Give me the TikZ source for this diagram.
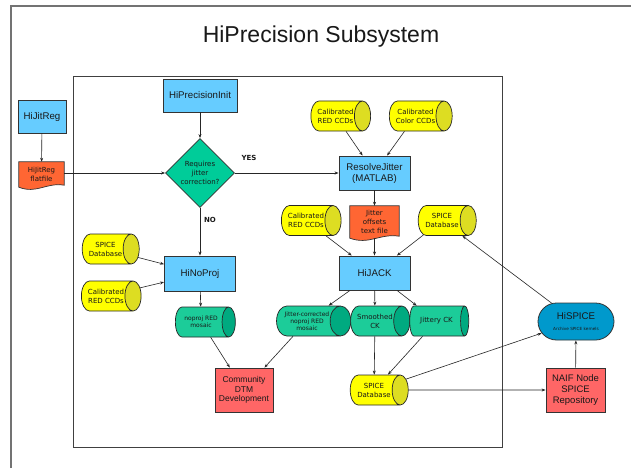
\documentclass[tikz,border=0pt]{standalone}
\usepackage{fontspec}
\setmainfont{Liberation Sans}
\newfontfamily\vfont{DejaVu Sans}
\usetikzlibrary{shapes.geometric,shapes.misc,arrows.meta,backgrounds}
\definecolor{boxblue}{HTML}{66CCFF}
\definecolor{diagreen}{HTML}{00CC99}
\definecolor{yel}{HTML}{FFFF00}
\definecolor{yelend}{HTML}{DDDD22}
\definecolor{grn}{HTML}{1CCC99}
\definecolor{grnend}{HTML}{00AA80}
\definecolor{orng}{HTML}{FF6633}
\definecolor{redbox}{HTML}{FF6666}
\definecolor{spiceblue}{HTML}{0099CC}
\newcommand\docwave[3]{%
  \begin{scope}[on background layer]
  \filldraw[fill=#3, draw=black!80, line width=0.7pt]
    (#1.north west) -- (#1.north east) -- ([yshift=2pt]#1.south east)
    .. controls ([xshift=-#2pt, yshift=5pt]#1.south east) and ([xshift=#2pt, yshift=-7pt]#1.south west) .. (#1.south west) -- cycle;
  \end{scope}}
\begin{document}
\begin{tikzpicture}[x=1pt,y=-1pt,
  every node/.style={text=black!90},
  pbox/.style={rectangle, draw=black!80, line width=0.9pt, fill=boxblue, align=center, inner sep=1pt, font=\fontsize{9.7}{11}\selectfont},
  rbox/.style={rectangle, draw=black!80, line width=0.9pt, fill=redbox, align=center, inner sep=1pt},
  cyl/.style={cylinder, shape aspect=1.05, draw=black!85, line width=0.7pt, cylinder uses custom fill, align=center, inner sep=0.5pt, minimum width=30pt},
  ycyl/.style={cyl, cylinder body fill=yel, cylinder end fill=yelend, font=\vfont\fontsize{7}{9}\selectfont},
  gcyl/.style={cyl, cylinder body fill=grn, cylinder end fill=grnend},
  docbox/.style={rectangle, draw=none, align=center, inner sep=1pt, font=\vfont\fontsize{7}{9}\selectfont},
  arr/.style={draw=black!85, line width=0.6pt, -{Stealth[length=4pt,width=3pt]}},
  lbl/.style={font=\vfont\bfseries\fontsize{7}{8}\selectfont}
]
\useasboundingbox (0,0) rectangle (631,468);
\begin{scope}[on background layer]
\fill[white] (0,0) rectangle (631,468);
\end{scope}
\draw[black!55, line width=1.3pt] (11,468) -- (11,6) -- (631,6);
\draw[black!75, line width=0.9pt] (73,76) rectangle (502,447);

\node[font=\fontsize{23}{27}\selectfont] (title) at (321,37) {HiPrecision Subsystem};

\node[pbox, minimum width=48pt, minimum height=33pt] (hjr) at (42,116.5) {HiJitReg};
\node[docbox, minimum width=45pt, minimum height=25pt] (ff) at (41.5,174.5) {HiJitReg\\flatfile};
\docwave{ff}{18}{orng}
\node[pbox, minimum width=74pt, minimum height=33pt] (hpi) at (200,95.5) {HiPrecisionInit};
\node[diamond, aspect=1, minimum width=69pt, minimum height=69pt, fill=diagreen, draw=black!80, line width=0.8pt, align=center, inner sep=0pt, font=\vfont\fontsize{7}{8.7}\selectfont] (dia) at (200,173) {Requires\\jitter\\correction?};
\node[pbox, minimum width=71pt, minimum height=34pt] (rj) at (374.5,173) {ResolveJitter\\(MATLAB)};
\node[ycyl, minimum height=59pt] (rc1) at (335.5,116) {Calibrated\\RED CCDs};
\node[ycyl, minimum height=59pt] (cc1) at (415.5,116) {Calibrated\\Color CCDs};
\node[docbox, minimum width=49pt, minimum height=32pt] (jo) at (374.5,222) {Jitter\\offsets\\text file};
\docwave{jo}{19.6}{orng}
\node[ycyl, minimum height=58pt] (rc2) at (306,220.5) {Calibrated\\RED CCDs};
\node[ycyl, minimum height=58pt] (sp1) at (442,220.5) {SPICE\\Database};
\node[pbox, minimum width=71pt, minimum height=34pt] (hj) at (374.5,273) {HiJACK};
\node[gcyl, minimum height=70pt, font=\vfont\fontsize{6}{7}\selectfont] (jc) at (307,321) {Jitter-corrected\\noproj RED\\mosaic};
\node[gcyl, minimum height=58pt, font=\vfont\fontsize{7}{9}\selectfont] (sck) at (375,321) {Smoothed\\CK};
\node[gcyl, minimum height=59pt, font=\vfont\fontsize{7}{9}\selectfont] (jck) at (436.5,321) {Jittery CK};
\node[ycyl, minimum height=58pt] (sp2) at (374,390) {SPICE\\Database};
\node[pbox, minimum width=71pt, minimum height=35pt] (hnp) at (200,273.5) {HiNoProj};
\node[ycyl, minimum height=57pt] (sp0) at (105.5,249) {SPICE\\Database};
\node[ycyl, minimum height=58pt] (rc0) at (106,296) {Calibrated\\RED CCDs};
\node[gcyl, minimum height=60pt, font=\vfont\fontsize{6}{7}\selectfont] (np) at (201,322) {noproj RED\\mosaic};
\node[rbox, minimum width=58pt, minimum height=44pt, font=\fontsize{8.5}{9.5}\selectfont] (dtm) at (244,390) {Community\\DTM\\Development};
\node[rbox, minimum width=59pt, minimum height=44pt, font=\fontsize{9.5}{10.7}\selectfont] (naif) at (575.5,390) {NAIF Node\\SPICE\\Repository};
\node[rounded rectangle, minimum width=78pt, minimum height=37pt, fill=spiceblue, draw=black!80, line width=0.8pt, align=center, inner sep=1pt] (hs) at (576,321.5) {\fontsize{9.7}{10}\selectfont HiSPICE\\[-1pt]\vfont\fontsize{4.2}{5}\selectfont Archive SPICE kernels};

\node[lbl] (yes) at (249,158) {YES};
\node[lbl] (no) at (210,220) {NO};

\draw[arr] (hjr) -- (ff);
\draw[arr] (ff.east |- dia.west) -- (dia.west);
\draw[arr] (hpi) -- (dia);
\draw[arr] (dia) -- (rj);
\draw[arr] (dia) -- (hnp);
\draw[arr] (rc1) -- (rj);
\draw[arr] (cc1) -- (rj);
\draw[arr] (rj) -- (jo);
\draw[arr] (jo) -- (hj);
\draw[arr] (rc2) -- (hj);
\draw[arr] (sp1) -- (hj);
\draw[arr] (hj) -- (jc);
\draw[arr] (hj) -- (sck);
\draw[arr] (hj) -- (jck);
\draw[arr] (jc) -- (dtm);
\draw[arr] (np) -- (dtm);
\draw[arr] (sck) -- (sp2);
\draw[arr] (jck) -- (sp2);
\draw[arr] (sp2) -- (hs);
\draw[arr] (sp2) -- (naif);
\draw[arr] (naif) -- (hs);
\draw[arr] (hs) -- (sp1);
\draw[arr] (sp0) -- (hnp);
\draw[arr] (rc0) -- (hnp);
\draw[arr] (hnp) -- (np);
\end{tikzpicture}
\end{document}
